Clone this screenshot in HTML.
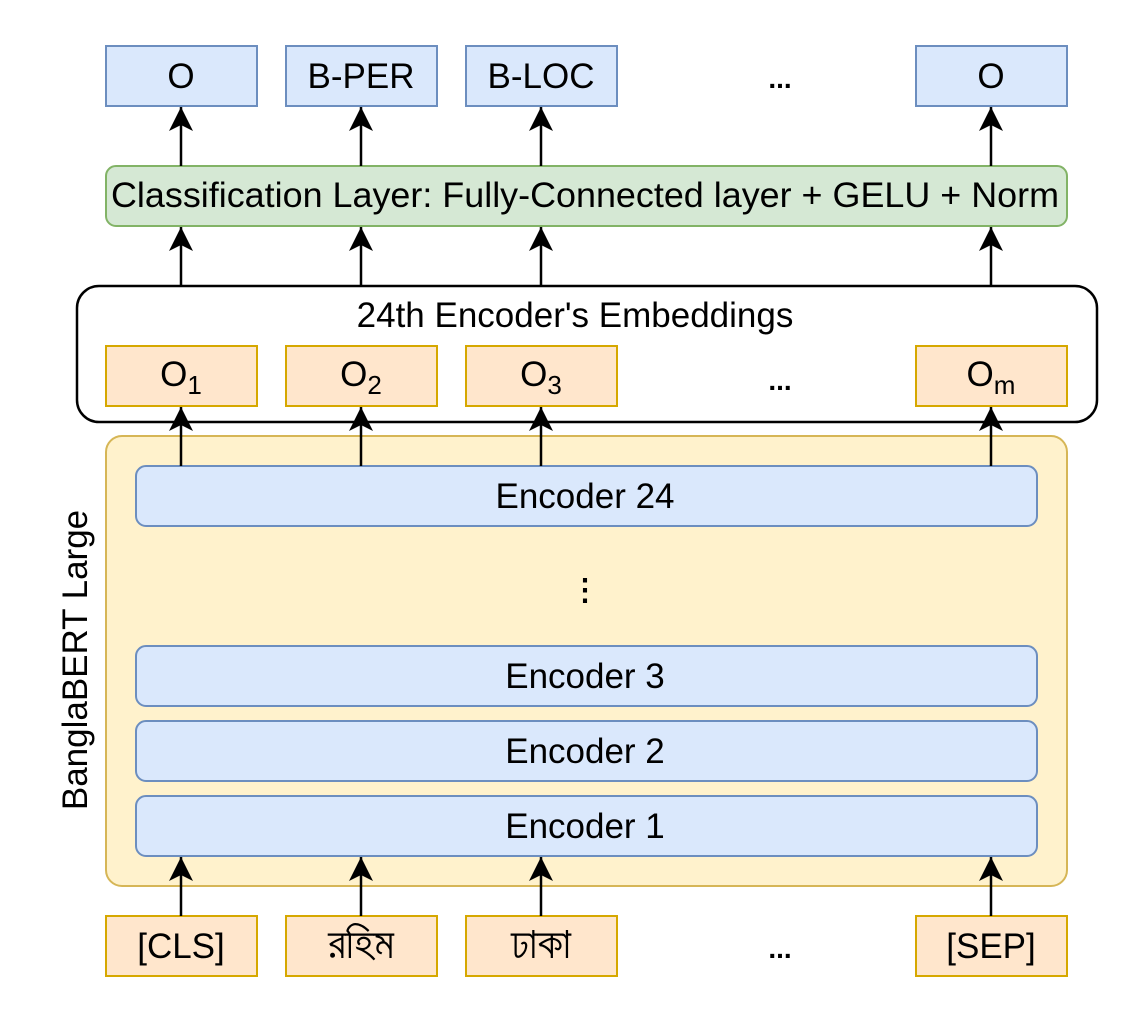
<!DOCTYPE html>
<html><head><meta charset="utf-8"><style>
body{margin:0;background:#fff;}
</style></head><body>
<svg width="1131" height="1023" xmlns="http://www.w3.org/2000/svg" font-family="Liberation Sans, sans-serif" font-size="35">
<defs>
<marker id="b" viewBox="0 0 20 20" refX="20" refY="10" markerWidth="24" markerHeight="24" orient="auto" markerUnits="userSpaceOnUse"><path d="M0,0 L20,10 L0,20 L5,10 Z" fill="#000"/></marker></defs>
<rect width="1131" height="1023" fill="#fff"/>
<rect x="106" y="436" width="961" height="450" rx="16" fill="#fff2cc" stroke="#d6b656" stroke-width="2"/>
<text transform="translate(87,660) rotate(-90)" text-anchor="middle">BanglaBERT Large</text>
<g fill="#dae8fc" stroke="#6c8ebf" stroke-width="2">
<rect x="136" y="466" width="901" height="60" rx="10"/>
<rect x="136" y="646" width="901" height="60" rx="10"/>
<rect x="136" y="721" width="901" height="60" rx="10"/>
<rect x="136" y="796" width="901" height="60" rx="10"/>
</g>
<g text-anchor="middle">
<text x="585" y="508">Encoder 24</text>
<text x="585" y="688">Encoder 3</text>
<text x="585" y="763">Encoder 2</text>
<text x="585" y="838">Encoder 1</text>
<text x="585" y="600" font-weight="bold" font-size="30">⋮</text>
</g>
<rect x="77" y="286" width="1020" height="136" rx="22" fill="#fff" stroke="#000" stroke-width="2.5"/>
<text x="575" y="327" text-anchor="middle">24th Encoder's Embeddings</text>
<g fill="#ffe6cc" stroke="#d6a800" stroke-width="2">
<rect x="106" y="346" width="151" height="60"/><rect x="286" y="346" width="151" height="60"/><rect x="466" y="346" width="151" height="60"/><rect x="916" y="346" width="151" height="60"/>
<rect x="106" y="916" width="151" height="60"/><rect x="286" y="916" width="151" height="60"/><rect x="466" y="916" width="151" height="60"/><rect x="916" y="916" width="151" height="60"/>
</g>
<g text-anchor="middle">
<text x="181" y="386">O<tspan font-size="26" dy="8">1</tspan></text>
<text x="361" y="386">O<tspan font-size="26" dy="8">2</tspan></text>
<text x="541" y="386">O<tspan font-size="26" dy="8">3</tspan></text>
<text x="991" y="386">O<tspan font-size="26" dy="8">m</tspan></text>
<text x="181" y="958">[CLS]</text>
<text x="361" y="958" font-size="44" font-family="Liberation Sans, FreeSans, Lohit Bengali, sans-serif">রহিম</text>
<text x="541" y="958" font-size="44" font-family="Liberation Sans, FreeSans, Lohit Bengali, sans-serif">ঢাকা</text>
<text x="991" y="958">[SEP]</text>
<text x="780" y="390" font-weight="bold" font-size="28">...</text>
<text x="780" y="958" font-weight="bold" font-size="28">...</text>
<text x="780" y="88" font-weight="bold" font-size="28">...</text>
</g>
<rect x="106" y="166" width="961" height="60" rx="10" fill="#d5e8d4" stroke="#82b366" stroke-width="2"/>
<text x="585" y="207" text-anchor="middle" textLength="948" lengthAdjust="spacingAndGlyphs">Classification Layer: Fully-Connected layer + GELU + Norm</text>
<g fill="#dae8fc" stroke="#6c8ebf" stroke-width="2">
<rect x="106" y="46" width="151" height="60"/><rect x="286" y="46" width="151" height="60"/><rect x="466" y="46" width="151" height="60"/><rect x="916" y="46" width="151" height="60"/>
</g>
<g text-anchor="middle">
<text x="181" y="88">O</text><text x="361" y="88">B-PER</text><text x="541" y="88">B-LOC</text><text x="991" y="88">O</text>
</g>
<g stroke="#000" stroke-width="2.5" marker-end="url(#b)">
<line x1="181" y1="166" x2="181" y2="107"/><line x1="361" y1="166" x2="361" y2="107"/><line x1="541" y1="166" x2="541" y2="107"/><line x1="991" y1="166" x2="991" y2="107"/>
<line x1="181" y1="286" x2="181" y2="227"/><line x1="361" y1="286" x2="361" y2="227"/><line x1="541" y1="286" x2="541" y2="227"/><line x1="991" y1="286" x2="991" y2="227"/>
<line x1="181" y1="466" x2="181" y2="407"/><line x1="361" y1="466" x2="361" y2="407"/><line x1="541" y1="466" x2="541" y2="407"/><line x1="991" y1="466" x2="991" y2="407"/>
<line x1="181" y1="916" x2="181" y2="857"/><line x1="361" y1="916" x2="361" y2="857"/><line x1="541" y1="916" x2="541" y2="857"/><line x1="991" y1="916" x2="991" y2="857"/>
</g>
</svg>
</body></html>
